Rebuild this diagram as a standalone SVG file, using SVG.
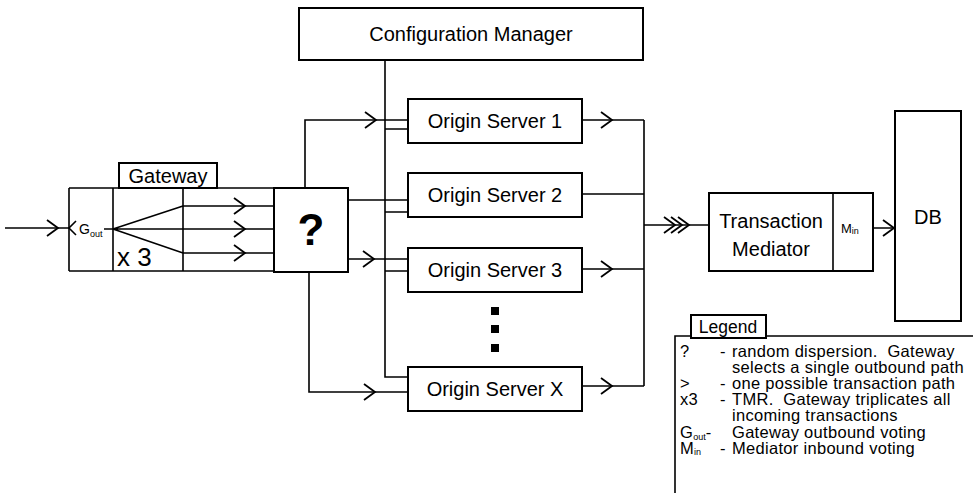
<svg xmlns="http://www.w3.org/2000/svg" xmlns:xlink="http://www.w3.org/1999/xlink" width="973" height="493" viewBox="0 0 973 493">
  <style>
    .box { fill: #fff; stroke: #000; stroke-width: 2; }
    .ln { fill: none; stroke: #000; stroke-width: 1.6; }
    .t { font-family: "Liberation Sans", Arial, Helvetica, sans-serif; fill: #000; }
    .lbl { font-size: 20px; text-anchor: middle; }
    .leg { font-size: 16.5px; letter-spacing: 0.3px; }
    .sub { font-size: 9px; letter-spacing: 0; }
  </style>
  <defs>
    <!-- open chevron arrowhead, tip at origin, pointing right -->
    <path id="chev" d="M-11,-8 L0,0 L-11,8" fill="none" stroke="#000" stroke-width="1.8"/>
  </defs>
  <rect width="973" height="493" fill="#fff"/>

  <!-- connectors -->
  <g id="connectors">
    <!-- inbound transaction into gateway -->
    <path class="ln" d="M5,228 H69"/>
    <use xlink:href="#chev" x="58" y="228"/>
    <path class="ln" d="M76,221 L69,228 L76,235" stroke-width="1.8"/>
    <!-- TMR fan-out -->
    <path class="ln" d="M104,229 H113 M113,229 L183,206 M113,229 L183,229 M113,229 L183,253"/>
    <path class="ln" d="M183,206 H274 M183,229 H274 M183,253 H274"/>
    <use xlink:href="#chev" x="245" y="206"/>
    <use xlink:href="#chev" x="245" y="229"/>
    <use xlink:href="#chev" x="245" y="253"/>
    <!-- dispersion to origin servers -->
    <path class="ln" d="M305,188 V120 H408"/>
    <use xlink:href="#chev" x="376" y="120"/>
    <path class="ln" d="M348,200 H408"/>
    <path class="ln" d="M348,259 H408"/>
    <use xlink:href="#chev" x="374" y="259"/>
    <path class="ln" d="M309,272 V392 H408"/>
    <use xlink:href="#chev" x="375" y="392"/>
    <!-- configuration manager bus -->
    <path class="ln" d="M385,60 V377 H408 M385,129 H408 M385,212 H408 M385,271 H408"/>
    <!-- origin server outputs to mediator bus -->
    <path class="ln" d="M582,120 H644 M582,194 H644 M582,269 H644 M582,386 H644 M644,120 V386"/>
    <use xlink:href="#chev" x="612" y="120"/>
    <use xlink:href="#chev" x="612" y="269"/>
    <use xlink:href="#chev" x="612" y="386"/>
    <path class="ln" d="M644,225 H709"/>
    <use xlink:href="#chev" x="675" y="225"/>
    <use xlink:href="#chev" x="682" y="225"/>
    <use xlink:href="#chev" x="689" y="225"/>
    <!-- mediator to DB -->
    <path class="ln" d="M833,228 H840 M863,228 H895"/>
    <use xlink:href="#chev" x="894" y="228"/>
  </g>

  <!-- configuration manager -->
  <g id="config-manager">
    <rect class="box" x="299" y="8" width="344" height="52"/>
    <text class="t lbl" x="471" y="41">Configuration Manager</text>
  </g>

  <!-- gateway -->
  <g id="gateway">
    <rect class="box" x="119" y="163" width="98" height="25"/>
    <text class="t lbl" x="168" y="183">Gateway</text>
    <path class="ln" d="M69,188 H274 M69,271 H274 M69,188 V271 M113,188 V271 M183,188 V271" stroke-width="2"/>
    <text class="t" x="79" y="234" font-size="14">G<tspan class="sub" dy="3">out</tspan></text>
    <text class="t" x="117" y="266" font-size="26">x 3</text>
  </g>

  <!-- dispersion box -->
  <g id="dispersion">
    <rect class="box" x="274" y="188" width="74" height="84"/>
    <text class="t" x="311" y="245" font-size="44" font-weight="bold" text-anchor="middle">?</text>
  </g>

  <!-- origin servers -->
  <g id="origin-server-1">
    <rect class="box" x="408" y="99" width="174" height="44"/>
    <text class="t lbl" x="495" y="128">Origin Server 1</text>
  </g>
  <g id="origin-server-2">
    <rect class="box" x="408" y="173" width="174" height="44"/>
    <text class="t lbl" x="495" y="202">Origin Server 2</text>
  </g>
  <g id="origin-server-3">
    <rect class="box" x="408" y="248" width="174" height="44"/>
    <text class="t lbl" x="495" y="277">Origin Server 3</text>
  </g>
  <g id="ellipsis">
    <rect x="491" y="307" width="8" height="8" fill="#000"/>
    <rect x="491" y="325" width="8" height="8" fill="#000"/>
    <rect x="491" y="344" width="8" height="8" fill="#000"/>
  </g>
  <g id="origin-server-x">
    <rect class="box" x="408" y="367" width="174" height="44"/>
    <text class="t lbl" x="495" y="396">Origin Server X</text>
  </g>

  <!-- transaction mediator -->
  <g id="transaction-mediator">
    <rect class="box" x="709" y="193" width="164" height="78"/>
    <path class="ln" d="M833,193 V271" stroke-width="2"/>
    <text class="t lbl" x="771" y="228">Transaction</text>
    <text class="t lbl" x="771" y="256">Mediator</text>
    <text class="t" x="841" y="233" font-size="13">M<tspan class="sub" dy="1">in</tspan></text>
  </g>

  <!-- database -->
  <g id="db">
    <rect class="box" x="895" y="111" width="66" height="210"/>
    <text class="t lbl" x="928" y="224">DB</text>
  </g>

  <!-- legend -->
  <g id="legend">
    <path class="ln" d="M675,493 V336 H691 M766,336 H973" stroke-width="2"/>
    <rect class="box" x="691" y="315" width="75" height="23"/>
    <text class="t" x="728" y="333" font-size="17.5" text-anchor="middle">Legend</text>
    <g class="t leg">
      <text x="680" y="357">?</text>
      <text x="720" y="357">-</text>
      <text x="732" y="357" xml:space="preserve">random dispersion.  Gateway</text>
      <text x="732" y="373">selects a single outbound path</text>
      <text x="680" y="389">&gt;</text>
      <text x="720" y="389">-</text>
      <text x="732" y="389">one possible transaction path</text>
      <text x="680" y="405">x3</text>
      <text x="720" y="405">-</text>
      <text x="732" y="405" xml:space="preserve">TMR.  Gateway triplicates all</text>
      <text x="732" y="421">incoming transactions</text>
      <text x="680" y="438">G<tspan class="sub" dy="2">out</tspan><tspan dy="-2">-</tspan></text>
      <text x="732" y="438">Gateway outbound voting</text>
      <text x="680" y="454">M<tspan class="sub" dy="1">in</tspan></text>
      <text x="720" y="454">-</text>
      <text x="732" y="454">Mediator inbound voting</text>
    </g>
  </g>
</svg>
